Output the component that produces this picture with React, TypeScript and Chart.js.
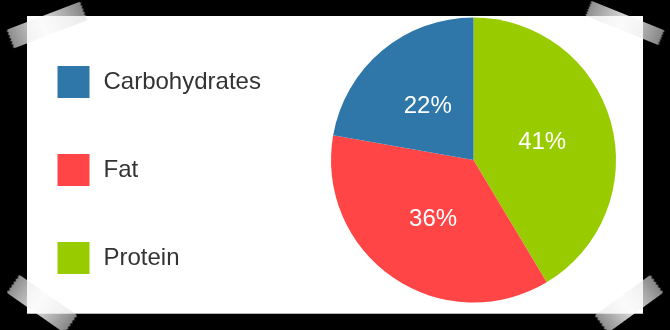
import { useEffect, useRef } from 'react';
import { Chart, DoughnutController, registerables } from 'chart.js';

Chart.register(...registerables);

// Macronutrient split, listed clockwise from 12 o'clock
const categories = ['Protein', 'Fat', 'Carbohydrates'];
const shares = [41, 36, 22];
const sliceColors = ['#99CC00', '#FF4545', '#2F77A9'];

const FONT = "'Liberation Sans', Arial, Helvetica, sans-serif";

// Moves the legend block after layout so it sits independently of the pie
const LEGEND_LEFT = 3.5;
const LEGEND_DY = 10;

const legendNudge = {
  id: 'legendNudge',
  afterLayout(chart: any) {
    const lg = chart.legend;
    if (!lg) return;
    const dx = LEGEND_LEFT - lg.left;
    lg.left += dx;
    lg.right += dx;
    lg.top += LEGEND_DY;
    lg.bottom += LEGEND_DY;
  },
};

// Keeps the pie's drawing area 331..616 px wide whatever the legend measures
const pieArea = {
  id: 'pieArea',
  beforeLayout(chart: any) {
    const lg = chart.legend;
    const pad = chart.options.layout.padding;
    if (lg && typeof lg.width === 'number' && lg.width > 0) {
      pad.left = Math.max(0, 331 - lg.width);
    }
  },
};

// Percentage text drawn at each slice's centroid
const sliceLabels = {
  id: 'sliceLabels',
  afterDatasetsDraw(chart: any) {
    const ctx = chart.ctx as CanvasRenderingContext2D;
    const meta = chart.getDatasetMeta(0);
    const values = chart.data.datasets[0].data as number[];
    ctx.save();
    ctx.fillStyle = '#ffffff';
    ctx.font = `24px ${FONT}`;
    ctx.textAlign = 'center';
    ctx.textBaseline = 'middle';
    meta.data.forEach((arc: any, i: number) => {
      const p = arc.tooltipPosition(true);
      ctx.fillText(`${values[i]}%`, p.x, p.y + 1);
    });
    ctx.restore();
  },
};

type Tape = { cx: number; cy: number; w: number; h: number; angle: number };

const tapes: Tape[] = [
  { cx: 47, cy: 25, w: 80, h: 20, angle: -21 },
  { cx: 625, cy: 22.5, w: 80, h: 16, angle: 22 },
  { cx: 41.5, cy: 304, w: 72, h: 22, angle: 35 },
  { cx: 629, cy: 304, w: 70, h: 22, angle: -36 },
];

// Serrated short ends, like torn tape
function tapeClip(w: number, h: number): string {
  const teeth = 6;
  const d = 1.8;
  const pts: string[] = [];
  pts.push(`${d}px 0px`, `${w - d}px 0px`);
  for (let i = 1; i <= teeth * 2; i++) {
    const y = (h * i) / (teeth * 2);
    pts.push(`${i % 2 === 1 ? w : w - d}px ${y}px`);
  }
  pts.push(`${d}px ${h}px`);
  for (let i = teeth * 2 - 1; i >= 0; i--) {
    const y = (h * i) / (teeth * 2);
    pts.push(`${i % 2 === 1 ? 0 : d}px ${y}px`);
  }
  return `polygon(${pts.join(', ')})`;
}

export default function App() {
  const canvasRef = useRef<HTMLCanvasElement | null>(null);

  useEffect(() => {
    const canvas = canvasRef.current;
    if (!canvas) return;
    const baseLabels = (DoughnutController as any).overrides.plugins.legend.labels.generateLabels;
    const chart = new Chart(canvas, {
      type: 'pie',
      data: {
        labels: categories,
        datasets: [
          {
            data: shares,
            backgroundColor: sliceColors,
            borderWidth: 0,
          },
        ],
      },
      options: {
        responsive: false,
        animation: false,
        devicePixelRatio: 1,
        events: [],
        layout: { padding: { left: 63, right: 54, top: 0, bottom: 10 } },
        plugins: {
          tooltip: { enabled: false },
          legend: {
            position: 'left',
            reverse: true,
            labels: {
              boxWidth: 36,
              boxHeight: 36,
              padding: 52,
              color: '#333333',
              font: { family: FONT, size: 24 },
              // a white 4px outline trims each 36px swatch to a 32px square
              generateLabels: (c: any) =>
                baseLabels(c).map((item: any) => ({
                  ...item,
                  lineWidth: 4,
                  strokeStyle: '#ffffff',
                })),
            },
          },
        },
      } as any,
      plugins: [pieArea, legendNudge, sliceLabels],
    });
    // second pass lets the pie area use the measured legend width
    chart.update();
    return () => chart.destroy();
  }, []);

  return (
    <div
      style={{
        position: 'fixed',
        left: 0,
        top: 0,
        width: 670,
        height: 330,
        background: '#000',
        overflow: 'hidden',
      }}
    >
      <div
        style={{
          position: 'absolute',
          left: 27,
          top: 16,
          width: 616,
          height: 297,
          background: '#fff',
          boxShadow: '0 1px 0 #b8b8b8',
        }}
      />
      <canvas
        ref={canvasRef}
        width={670}
        height={330}
        style={{ position: 'absolute', left: 0, top: 0, width: 670, height: 330 }}
      />
      {tapes.map((t, i) => (
        <div
          key={i}
          style={{
            position: 'absolute',
            left: t.cx - t.w / 2,
            top: t.cy - t.h / 2,
            width: t.w,
            height: t.h,
            transform: `rotate(${t.angle}deg)`,
            background:
              'linear-gradient(90deg, rgba(225,225,225,0.62) 0%, rgba(250,250,250,0.86) 45%, rgba(245,245,245,0.8) 60%, rgba(220,220,220,0.6) 100%)',
            clipPath: tapeClip(t.w, t.h),
          }}
        />
      ))}
    </div>
  );
}
